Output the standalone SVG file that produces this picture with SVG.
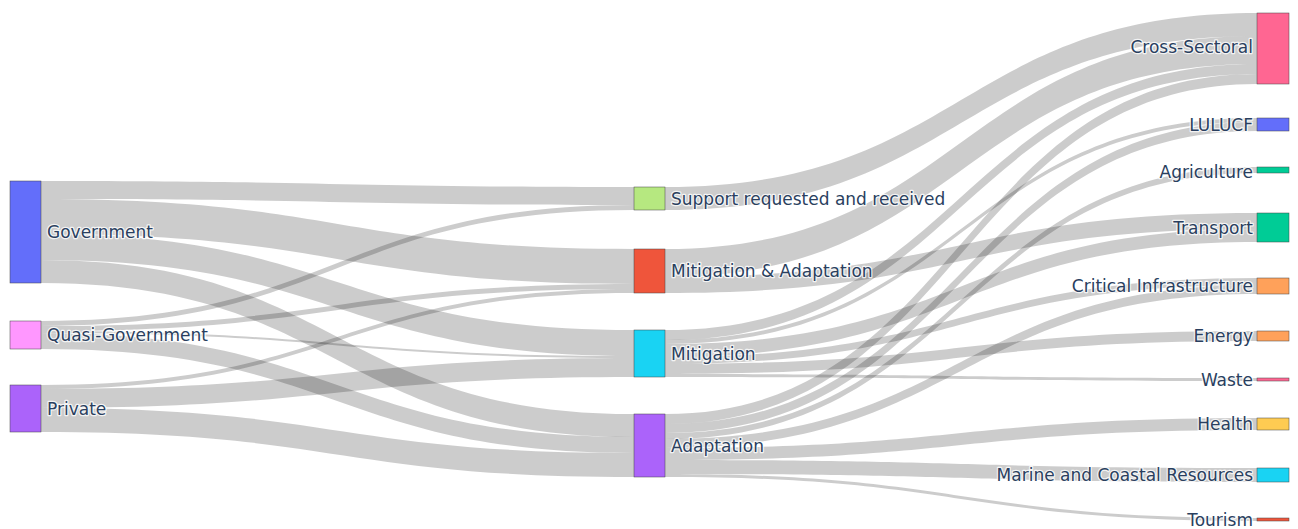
<svg xmlns="http://www.w3.org/2000/svg" width="1298" height="529" viewBox="0 0 1298 529">
<style>
.lk{fill:rgba(0,0,0,0.2);stroke:none}
.nd{stroke:#444;stroke-width:0.5}
.lb{font-family:"DejaVu Sans","Verdana",sans-serif;font-size:17px;fill:#2a3f5f;stroke:#fff;stroke-width:2.5px;stroke-opacity:0.8;paint-order:stroke;stroke-linejoin:round}
.r{text-anchor:end}
</style>
<rect width="1298" height="529" fill="#fff"/>
<g id="links">
<path class="lk" d="M41,181 C337.5,181 337.5,187 634,187 L634,205 C337.5,205 337.5,199 41,199 Z"/>
<path class="lk" d="M41,199 C337.5,199 337.5,249 634,249 L634,284 C337.5,284 337.5,234 41,234 Z"/>
<path class="lk" d="M41,234 C337.5,234 337.5,330 634,330 L634,356 C337.5,356 337.5,260 41,260 Z"/>
<path class="lk" d="M41,260 C337.5,260 337.5,414 634,414 L634,437 C337.5,437 337.5,283 41,283 Z"/>
<path class="lk" d="M41,321 C337.5,321 337.5,205 634,205 L634,210 C337.5,210 337.5,326 41,326 Z"/>
<path class="lk" d="M41,326 C337.5,326 337.5,284 634,284 L634,289 C337.5,289 337.5,331 41,331 Z"/>
<path class="lk" d="M41,331 C337.5,331 337.5,356 634,356 L634,358 C337.5,358 337.5,333 41,333 Z"/>
<path class="lk" d="M41,333 C337.5,333 337.5,437 634,437 L634,453 C337.5,453 337.5,349 41,349 Z"/>
<path class="lk" d="M41,385 C337.5,385 337.5,289 634,289 L634,293 C337.5,293 337.5,389 41,389 Z"/>
<path class="lk" d="M41,389 C337.5,389 337.5,358 634,358 L634,377 C337.5,377 337.5,408 41,408 Z"/>
<path class="lk" d="M41,408 C337.5,408 337.5,453 634,453 L634,477 C337.5,477 337.5,432 41,432 Z"/>
<path class="lk" d="M665,187 C961,187 961,13 1257,13 L1257,36 C961,36 961,210 665,210 Z"/>
<path class="lk" d="M665,249 C961,249 961,36 1257,36 L1257,64 C961,64 961,277 665,277 Z"/>
<path class="lk" d="M665,277 C961,277 961,213 1257,213 L1257,229 C961,229 961,293 665,293 Z"/>
<path class="lk" d="M665,330 C961,330 961,64 1257,64 L1257,74 C961,74 961,340 665,340 Z"/>
<path class="lk" d="M665,340 C961,340 961,118 1257,118 L1257,122 C961,122 961,344 665,344 Z"/>
<path class="lk" d="M665,344 C961,344 961,229 1257,229 L1257,242 C961,242 961,357 665,357 Z"/>
<path class="lk" d="M665,357 C961,357 961,278 1257,278 L1257,285 C961,285 961,364 665,364 Z"/>
<path class="lk" d="M665,364 C961,364 961,331 1257,331 L1257,341 C961,341 961,374 665,374 Z"/>
<path class="lk" d="M665,374 C961,374 961,378 1257,378 L1257,381 C961,381 961,377 665,377 Z"/>
<path class="lk" d="M665,414 C961,414 961,74 1257,74 L1257,84 C961,84 961,424 665,424 Z"/>
<path class="lk" d="M665,424 C961,424 961,122 1257,122 L1257,131 C961,131 961,433 665,433 Z"/>
<path class="lk" d="M665,433 C961,433 961,167 1257,167 L1257,173 C961,173 961,439 665,439 Z"/>
<path class="lk" d="M665,439 C961,439 961,285 1257,285 L1257,294 C961,294 961,448 665,448 Z"/>
<path class="lk" d="M665,448 C961,448 961,418 1257,418 L1257,430 C961,430 961,460 665,460 Z"/>
<path class="lk" d="M665,460 C961,460 961,468 1257,468 L1257,482 C961,482 961,474 665,474 Z"/>
<path class="lk" d="M665,474 C961,474 961,518 1257,518 L1257,521 C961,521 961,477 665,477 Z"/>
</g>
<g id="government"><rect class="nd" x="10" y="181" width="31" height="102" fill="#636efa"/><text class="lb" x="47" y="232" dy="0.36em">Government</text></g>
<g id="quasi-government"><rect class="nd" x="10" y="321" width="31" height="28" fill="#ff97ff"/><text class="lb" x="47" y="335" dy="0.36em">Quasi-Government</text></g>
<g id="private"><rect class="nd" x="10" y="385" width="31" height="47" fill="#ab63fa"/><text class="lb" x="47" y="408.5" dy="0.36em">Private</text></g>
<g id="support"><rect class="nd" x="634" y="187" width="31" height="23" fill="#b6e880"/><text class="lb" x="671" y="198.5" dy="0.36em">Support requested and received</text></g>
<g id="mitigation-adaptation"><rect class="nd" x="634" y="249" width="31" height="44" fill="#ef553b"/><text class="lb" x="671" y="271" dy="0.36em">Mitigation &amp; Adaptation</text></g>
<g id="mitigation"><rect class="nd" x="634" y="330" width="31" height="47" fill="#19d3f3"/><text class="lb" x="671" y="353.5" dy="0.36em">Mitigation</text></g>
<g id="adaptation"><rect class="nd" x="634" y="414" width="31" height="63" fill="#ab63fa"/><text class="lb" x="671" y="445.5" dy="0.36em">Adaptation</text></g>
<g id="cross-sectoral"><rect class="nd" x="1257" y="13" width="32" height="71" fill="#ff6692"/><text class="lb r" x="1253" y="47" dy="0.36em">Cross-Sectoral</text></g>
<g id="lulucf"><rect class="nd" x="1257" y="118" width="32" height="13" fill="#636efa"/><text class="lb r" x="1253" y="124.5" dy="0.36em">LULUCF</text></g>
<g id="agriculture"><rect class="nd" x="1257" y="167" width="32" height="6" fill="#00cc96"/><text class="lb r" x="1253" y="172" dy="0.36em">Agriculture</text></g>
<g id="transport"><rect class="nd" x="1257" y="213" width="32" height="29" fill="#00cc96"/><text class="lb r" x="1253" y="227.5" dy="0.36em">Transport</text></g>
<g id="critical-infrastructure"><rect class="nd" x="1257" y="278" width="32" height="16" fill="#ffa15a"/><text class="lb r" x="1253" y="286" dy="0.36em">Critical Infrastructure</text></g>
<g id="energy"><rect class="nd" x="1257" y="331" width="32" height="10" fill="#ffa15a"/><text class="lb r" x="1253" y="336" dy="0.36em">Energy</text></g>
<g id="waste"><rect class="nd" x="1257" y="378" width="32" height="3" fill="#ff6692"/><text class="lb r" x="1253" y="379.5" dy="0.36em">Waste</text></g>
<g id="health"><rect class="nd" x="1257" y="418" width="32" height="12" fill="#fecb52"/><text class="lb r" x="1253" y="424" dy="0.36em">Health</text></g>
<g id="marine"><rect class="nd" x="1257" y="468" width="32" height="14" fill="#19d3f3"/><text class="lb r" x="1253" y="475" dy="0.36em">Marine and Coastal Resources</text></g>
<g id="tourism"><rect class="nd" x="1257" y="518" width="32" height="3" fill="#ef553b"/><text class="lb r" x="1253" y="519.5" dy="0.36em">Tourism</text></g>
</svg>
